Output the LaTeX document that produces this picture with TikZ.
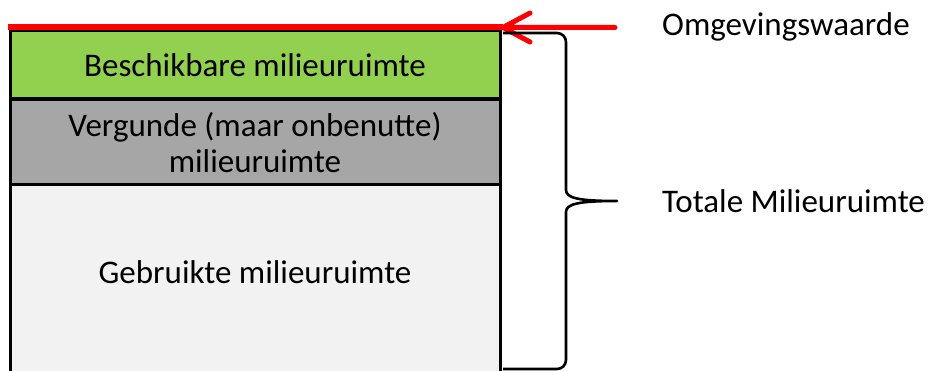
\documentclass[tikz,border=0pt]{standalone}
\usepackage{fontspec}
\setmainfont{Carlito}
\begin{document}
\begin{tikzpicture}[x=1pt,y=-1pt,
  layer/.style={draw=black,line width=3.5pt},
  lbl/.style={font=\fontsize{33}{36}\selectfont,align=center,inner sep=0pt},
  side/.style={font=\fontsize{33}{36}\selectfont,anchor=west,inner sep=0pt},
  brace/.style={draw=black,line width=2.6pt,line join=round}]
\useasboundingbox (0,0) rectangle (931,371);
\definecolor{availgreen}{HTML}{92D050}
\definecolor{permitgray}{HTML}{A6A6A6}
\definecolor{usedgray}{HTML}{F2F2F2}
% stacked layers
\fill[usedgray] (10.5,184.5) rectangle (500.5,375);
\draw[layer] (10.5,375) -- (10.5,184.5) -- (500.5,184.5) -- (500.5,375);
\filldraw[layer,fill=permitgray] (10.5,99) rectangle (500.5,184.5);
\filldraw[layer,fill=availgreen] (10.5,30) rectangle (500.5,99);
% layer labels
\node[lbl] (avail) at (255,65) {Beschikbare milieuruimte};
\node[lbl] (permit) at (255,143) {Vergunde (maar onbenutte)\\milieuruimte};
\node[lbl] (used) at (255,272) {Gebruikte milieuruimte};
% limit line and arrow
\coordinate (topleft) at (8,27.5);
\coordinate (topright) at (503,27.5);
\coordinate (arrowstart) at (615,27.5);
\draw[red,line width=6pt] (topleft) -- (topright);
\draw[red,line width=5pt,line cap=round,line join=round]
  (arrowstart) -- (topright)
  (530,13) -- (topright) -- (530,42);
\node[side] (limit) at (662,27) {Omgevingswaarde};
% brace over the full height
\coordinate (tip) at (617,201);
\draw[brace] (503,33) -- (557,33) to[out=0,in=90] (566,42) -- (566,190)
  .. controls (566,198) and (578,201) .. (tip)
  .. controls (578,201) and (566,204) .. (566,212) -- (566,360)
  to[out=-90,in=0] (557,369) -- (503,369);
\node[side] (total) at (662,201) {Totale Milieuruimte};
\end{tikzpicture}
\end{document}
